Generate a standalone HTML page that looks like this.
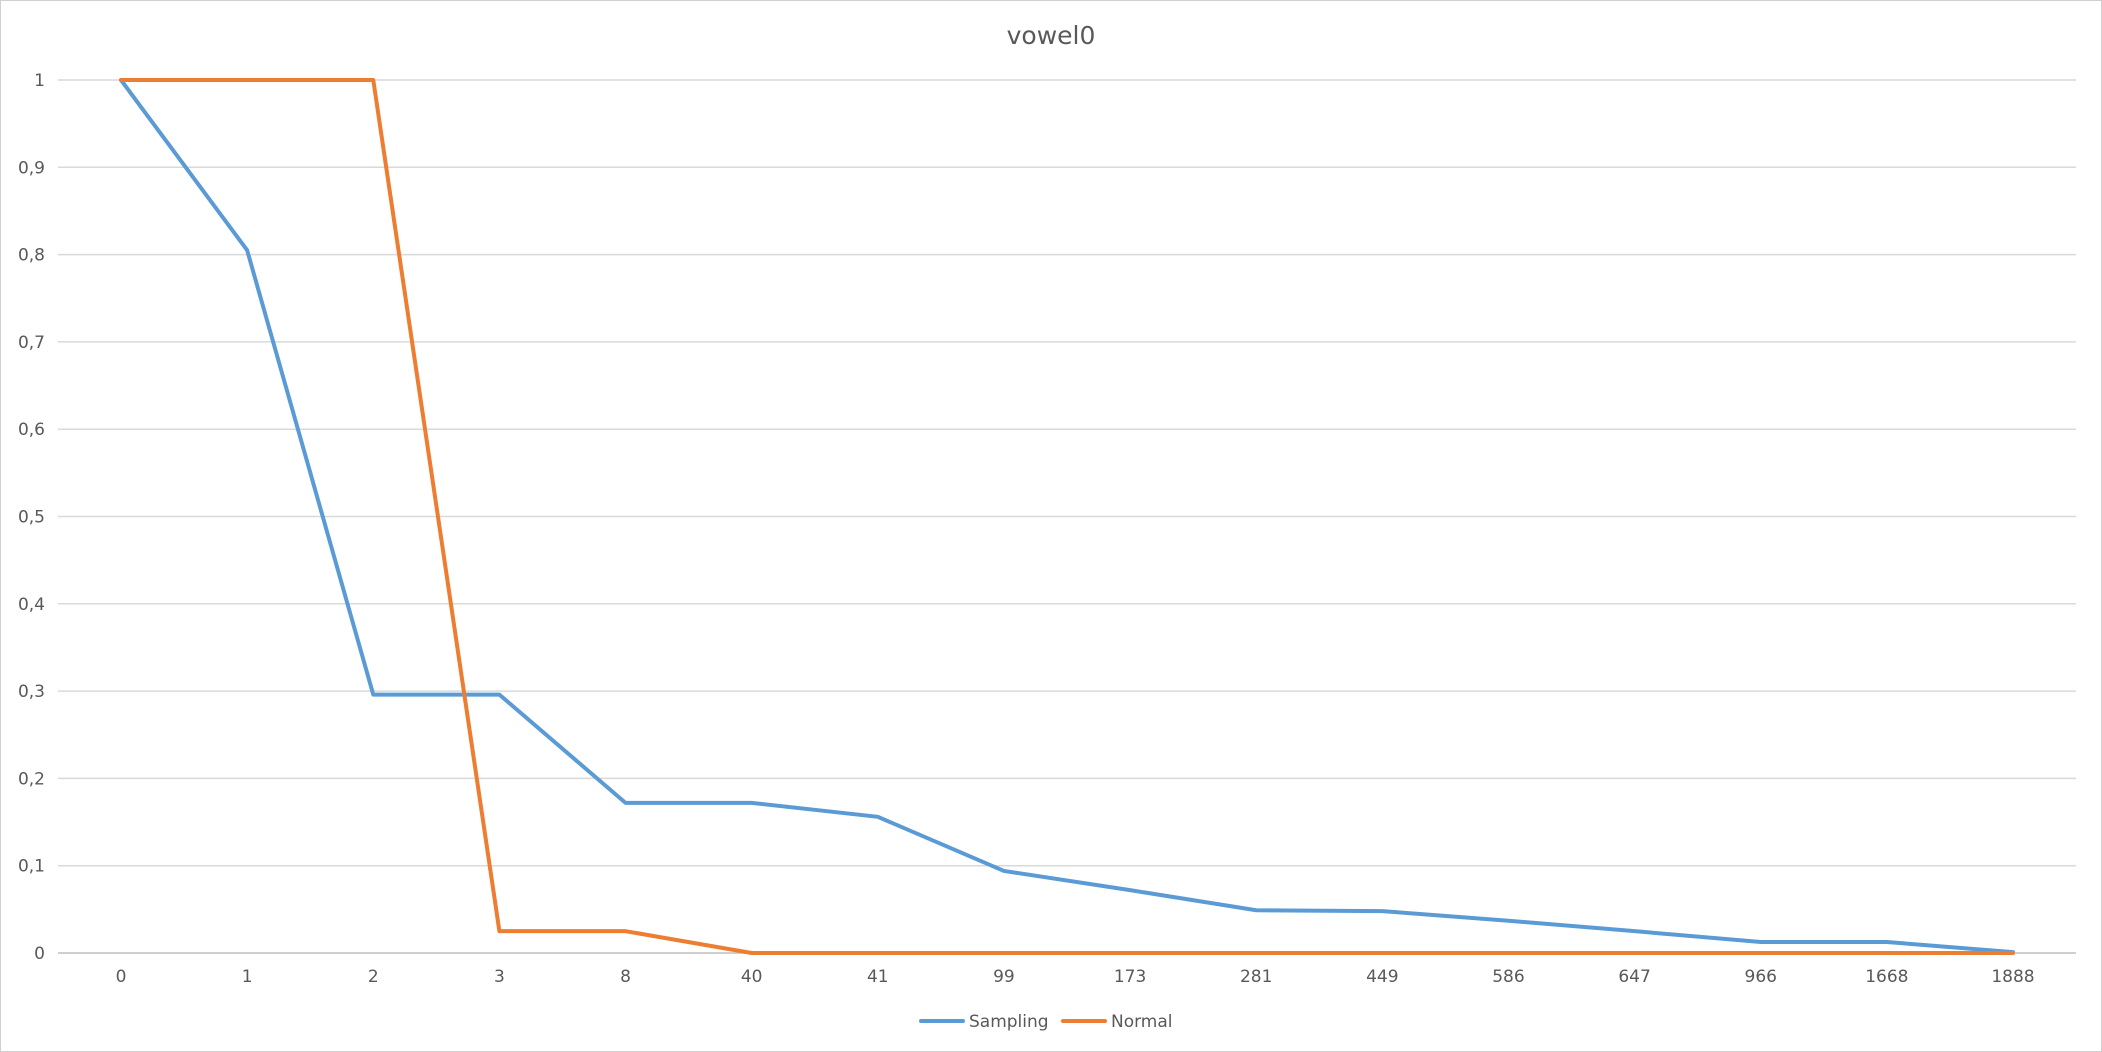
<!DOCTYPE html>
<html><head><meta charset="utf-8"><style>
html,body{margin:0;padding:0;background:#fff}
svg{display:block;font-family:"DejaVu Sans","Liberation Sans",sans-serif}
</style></head><body>
<svg id="chart" width="2102" height="1052">
<rect x="0.5" y="0.5" width="2101" height="1051" fill="#fff" stroke="#d0d0d0"/>
<text x="1051" y="44" text-anchor="middle" font-size="25" fill="#595959">vowel0</text>
<g id="grid"></g><g id="yt"></g><g id="xt"></g><g id="series"></g>
<g>
<line x1="921" y1="1021" x2="963" y2="1021" stroke="#5b9bd5" stroke-width="4" stroke-linecap="round"/>
<text x="969" y="1027" font-size="17" fill="#595959">Sampling</text>
<line x1="1063" y1="1021" x2="1105" y2="1021" stroke="#ed7d31" stroke-width="4" stroke-linecap="round"/>
<text x="1111" y="1027" font-size="17" fill="#595959">Normal</text>
</g>
</svg>
<script>
const xLabels=["0","1","2","3","8","40","41","99","173","281","449","586","647","966","1668","1888"];
const sampling=[1,0.805,0.296,0.296,0.172,0.172,0.156,0.094,0.072,0.049,0.048,0.037,0.025,0.0126,0.0126,0.001];
const normal=[1,1,1,0.025,0.025,0,0,0,0,0,0,0,0,0,0,0];
const yTicks=[0,0.1,0.2,0.3,0.4,0.5,0.6,0.7,0.8,0.9,1];
const yTickLabels=["0","0,1","0,2","0,3","0,4","0,5","0,6","0,7","0,8","0,9","1"];
const NS="http://www.w3.org/2000/svg";
const n=xLabels.length;
const x0=121,x1=2013;
const xs=i=>x0+(x1-x0)*i/(n-1);
const ys=v=>953-873*v;
function mk(t,a,p){const e=document.createElementNS(NS,t);for(const k in a)e.setAttribute(k,a[k]);p.appendChild(e);return e;}
const grid=document.getElementById('grid'),yt=document.getElementById('yt'),xt=document.getElementById('xt'),se=document.getElementById('series');
yTicks.forEach((v,i)=>{
 const l=mk('line',{x1:58,x2:2076,y1:ys(v),y2:ys(v),stroke:i===0?'#bfbfbf':'#d9d9d9','stroke-width':1.5},grid);
 
 
 const t=mk('text',{x:45,y:ys(v)+6,'text-anchor':'end','font-size':17,fill:'#595959'},yt);
 t.textContent=yTickLabels[i];
 
 
});
xLabels.forEach((c,i)=>{
 const t=mk('text',{x:xs(i),y:982,'text-anchor':'middle','font-size':17,fill:'#595959'},xt);
 t.textContent=c;
 
 
});
function line(vals,color,name){
 const p=mk('polyline',{points:vals.map((v,i)=>xs(i)+','+ys(v)).join(' '),fill:'none',stroke:color,'stroke-width':4,'stroke-linejoin':'round','stroke-linecap':'round'},se);
 
 
}
line(sampling,'#5b9bd5','sampling-line');
line(normal,'#ed7d31','normal-line');
</script>
</body></html>
